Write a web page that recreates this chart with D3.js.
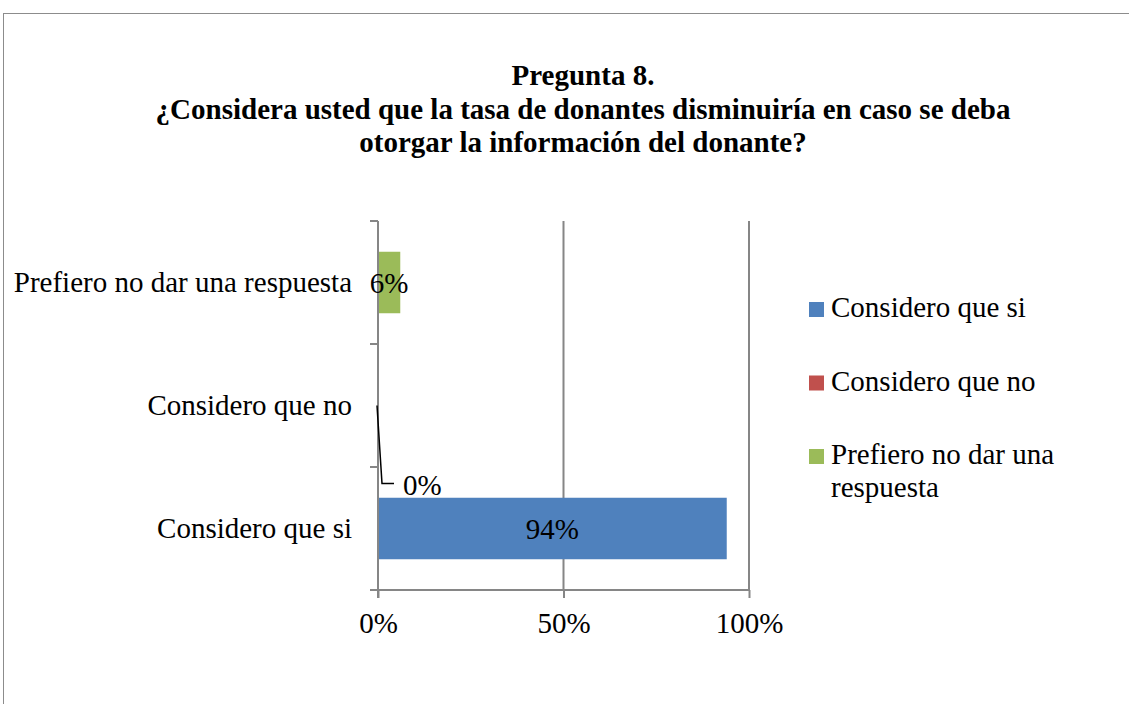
<!DOCTYPE html>
<html>
<head>
<meta charset="utf-8">
<script src="https://cdn.jsdelivr.net/npm/d3@7"></script>
<style>
  body { margin: 0; background: #fff; }
  svg text { font-family: 'Liberation Serif', 'Times New Roman', serif; }
</style>
</head>
<body>
<div class="svg"></div>
<script>
const categories = ['Considero que si', 'Considero que no', 'Prefiero no dar una respuesta']
const values = [0.94, 0, 0.06]
const colors = ['#4F81BD', '#C0504D', '#9BBB59']
const xTicks = [0, 0.5, 1]
const titleLines = [
  'Pregunta 8.',
  '¿Considera usted que la tasa de donantes disminuiría en caso se deba',
  'otorgar la información del donante?'
]
const legendLines = [['Considero que si'], ['Considero que no'], ['Prefiero no dar una', 'respuesta']]

;(function init() {
  const width = 1129
  const height = 704
  const fontSize = 29
  const left = 378
  const right = 749
  const top = 221
  const bottom = 590
  const axisColor = '#868686'

  const svg = d3
    .select('.svg')
    .append('svg')
    .attr('width', width)
    .attr('height', height)

  // outer chart frame, cut off at right and bottom
  svg.append('rect')
    .attr('x', 3.5)
    .attr('y', 13.5)
    .attr('width', 1400)
    .attr('height', 1000)
    .attr('fill', 'none')
    .attr('stroke', '#8c8c8c')

  svg.append('g')
    .selectAll('text')
    .data(titleLines)
    .enter()
    .append('text')
    .attr('x', 583)
    .attr('y', (d, i) => 85 + i * 33.5)
    .attr('text-anchor', 'middle')
    .attr('font-weight', 'bold')
    .attr('font-size', fontSize)
    .text((d) => d)

  const x = d3.scaleLinear().domain([0, 1]).range([left, right])
  // first category at the bottom
  const y = d3.scaleBand().domain(categories).range([bottom, top])

  // gridlines
  svg.append('g')
    .selectAll('line')
    .data(xTicks.slice(1))
    .enter()
    .append('line')
    .attr('x1', (d) => x(d))
    .attr('x2', (d) => x(d))
    .attr('y1', top)
    .attr('y2', bottom)
    .attr('stroke', axisColor)
    .attr('stroke-width', 2)

  // bottom axis
  const xAxis = svg.append('g')
    .attr('transform', `translate(0,${bottom})`)
    .call(d3.axisBottom(x).tickValues(xTicks).tickFormat(d3.format('.0%')).tickSize(8).tickSizeOuter(0).tickPadding(14))
  xAxis.select('.domain').remove()
  xAxis.selectAll('line').attr('stroke', axisColor).attr('stroke-width', 2)
  xAxis.selectAll('text')
    .attr('font-size', fontSize)
    .attr('font-family', 'Liberation Serif')
    .attr('fill', '#000')
  svg.append('line')
    .attr('x1', left - 8)
    .attr('x2', right)
    .attr('y1', bottom)
    .attr('y2', bottom)
    .attr('stroke', axisColor)
    .attr('stroke-width', 2)

  // bars
  svg.append('g')
    .selectAll('rect')
    .data(categories)
    .enter()
    .append('rect')
    .attr('x', x(0))
    .attr('y', (d) => y(d) + y.bandwidth() / 4)
    .attr('width', (d, i) => x(values[i]) - x(0))
    .attr('height', y.bandwidth() / 2)
    .attr('fill', (d, i) => colors[i])

  // left axis
  svg.append('line')
    .attr('x1', left)
    .attr('x2', left)
    .attr('y1', top)
    .attr('y2', bottom + 8)
    .attr('stroke', axisColor)
    .attr('stroke-width', 2)
  svg.append('g')
    .selectAll('line')
    .data(categories)
    .enter()
    .append('line')
    .attr('x1', left - 8)
    .attr('x2', left)
    .attr('y1', (d) => y(d))
    .attr('y2', (d) => y(d))
    .attr('stroke', axisColor)
    .attr('stroke-width', 2)

  const yAxis = svg.append('g')
    .attr('transform', `translate(${left},0)`)
    .call(d3.axisLeft(y).tickSize(0).tickPadding(26))
  yAxis.select('.domain').remove()
  yAxis.selectAll('text')
    .attr('font-size', fontSize)
    .attr('font-family', 'Liberation Serif')
    .attr('fill', '#000')

  // data labels
  const fmt = d3.format('.0%')
  categories.forEach((c, i) => {
    const cy = y(c) + y.bandwidth() / 2
    if (values[i] > 0) {
      svg.append('text')
        .attr('x', (x(0) + x(values[i])) / 2)
        .attr('y', cy + 10)
        .attr('text-anchor', 'middle')
        .attr('font-size', fontSize)
        .text(fmt(values[i]))
    } else {
      // label pushed aside with a leader line
      svg.append('path')
        .attr('d', `M${x(values[i]) - 1},${cy} L${x(values[i]) + 4},${cy + 78} L${x(values[i]) + 16},${cy + 78}`)
        .attr('fill', 'none')
        .attr('stroke', '#000')
        .attr('stroke-width', 1.5)
      svg.append('text')
        .attr('x', x(values[i]) + 25)
        .attr('y', cy + 89)
        .attr('font-size', fontSize)
        .text(fmt(values[i]))
    }
  })

  // legend
  const legend = svg.append('g')
    .selectAll('g')
    .data(legendLines)
    .enter()
    .append('g')
    .attr('transform', (d, i) => `translate(809,${302 + i * 73.5})`)
  legend.append('rect')
    .attr('width', 15)
    .attr('height', 15)
    .attr('fill', (d, i) => colors[i])
  legend.append('text')
    .attr('x', 22)
    .attr('y', 15)
    .attr('font-size', fontSize)
    .selectAll('tspan')
    .data((d) => d)
    .enter()
    .append('tspan')
    .attr('x', 22)
    .attr('dy', (d, i) => (i === 0 ? 0 : 33))
    .text((d) => d)
})()
</script>
</body>
</html>
